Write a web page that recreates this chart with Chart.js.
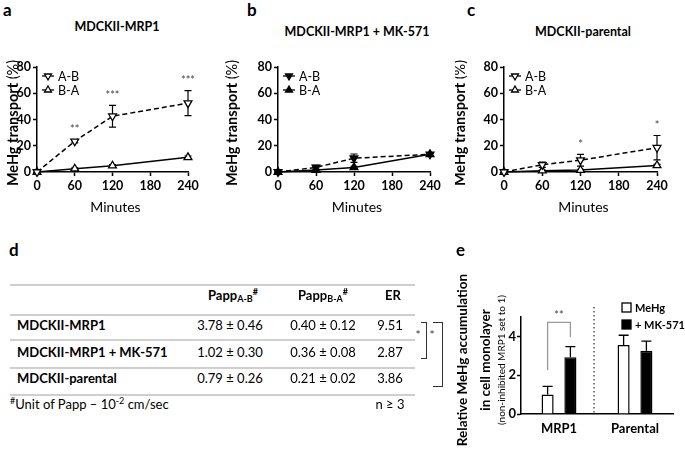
<!DOCTYPE html>
<html><head><meta charset="utf-8">
<script src="https://cdn.jsdelivr.net/npm/chart.js@4.4.0/dist/chart.umd.min.js"></script>
<style>
body{margin:0;background:#fff;font-family:Lato,"Open Sans",sans-serif;color:#000;}
#page{position:relative;width:685px;height:450px;overflow:hidden;background:#fff;}
.box{position:absolute;}
.t{position:absolute;white-space:nowrap;line-height:1;}
.hl{position:absolute;height:2px;background:#cfcfcf;left:10px;width:405px;}
.brk{position:absolute;border:1px solid #333;border-left:none;}
</style></head>
<body>
<div id="page">
  <div class="box" style="left:0;top:40px;width:205px;height:190px"><canvas id="ca" width="205" height="190"></canvas></div>
  <div class="box" style="left:225px;top:40px;width:220px;height:190px"><canvas id="cb" width="220" height="190"></canvas></div>
  <div class="box" style="left:455px;top:40px;width:225px;height:190px"><canvas id="cc" width="225" height="190"></canvas></div>
  <div class="box" style="left:455px;top:250px;width:230px;height:200px"><canvas id="ce" width="230" height="200"></canvas></div>
</div>
<script>
// ---------- data ----------
const minutes = [0, 60, 120, 240];
const lineXTicks = [0, 60, 120, 180, 240];
const lineYTicks = [0, 20, 40, 60, 80];

const mrp1AB    = [0, 23.4, 42.5, 52.5];
const mrp1ABerr = [0, 1.2, 8.3, 9.5];
const mrp1BA    = [0, 2.5, 4.8, 11.2];
const mrp1BAerr = [0, 0.6, 0.8, 1.0];
const mrp1Stars = ['', '**', '***', '***'];

const mkAB    = [0, 3.5, 10.5, 13.5];
const mkABerr = [0, 1.5, 3.2, 1.2];
const mkBA    = [0, 1.5, 3.5, 13.5];
const mkBAerr = [0, 0.6, 0.8, 1.0];
const mkStars = ['', '', '', ''];

const parAB    = [0, 5.5, 9, 18.5];
const parABerr = [0, 2, 4.5, 9.3];
const parBA    = [0, 1, 1.5, 5];
const parBAerr = [0, 0.5, 0.6, 0.8];
const parStars = ['', '', '*', '*'];

const panelTitles = ['MDCKII-MRP1', 'MDCKII-MRP1 + MK-571', 'MDCKII-parental'];
const seriesNames = ['A-B', 'B-A'];

const tableRows = ['MDCKII-MRP1', 'MDCKII-MRP1 + MK-571', 'MDCKII-parental'];
const pappAB = ['3.78 ± 0.46', '1.02 ± 0.30', '0.79 ± 0.26'];
const pappBA = ['0.40 ± 0.12', '0.36 ± 0.08', '0.21 ± 0.02'];
const erVals = ['9.51', '2.87', '3.86'];

const barCats = ['MRP1', 'Parental'];
const barSeries = ['MeHg', '+ MK-571'];
const meHg = [1.0, 3.56];
const meHgErr = [0.42, 0.5];
const mk571 = [2.92, 3.26];
const mk571Err = [0.55, 0.5];
const barYTicks = [0, 2, 4];
const sigTop = 4.72, sigLegL = 2.27, sigLegR = 3.97, sigText = '**';

// ---------- helpers ----------
const FONT = 'Lato, "Open Sans", sans-serif';
const page = document.getElementById('page');
function txt(html, x, cy, size, weight, align, color) {
  const d = document.createElement('div');
  d.className = 't';
  d.innerHTML = html;
  d.style.fontSize = size + 'px';
  d.style.fontWeight = weight || 'normal';
  if (color) d.style.color = color;
  const base = cy + 0.36 * size;
  d.style.top = (base - 0.887 * size) + 'px';
  d.style.left = x + 'px';
  if (align === 'center') d.style.transform = 'translateX(-50%)';
  page.appendChild(d);
  return d;
}

// panel letters and titles
txt('a', 3, 10, 17, 'bold');
txt('b', 247, 10, 17, 'bold');
txt('c', 467, 10, 17, 'bold');
txt('d', 9, 250, 17, 'bold');
txt('e', 456, 250, 17, 'bold');
txt(panelTitles[0], 117, 28, 12.5, 'bold', 'center');
txt(panelTitles[1], 357, 33, 12.5, 'bold', 'center');
txt(panelTitles[2], 583, 33, 12.5, 'bold', 'center');

// ---------- table d ----------
[285, 315, 340, 368, 395].forEach(y => {
  const l = document.createElement('div'); l.className = 'hl'; l.style.top = (y - 1) + 'px'; page.appendChild(l);
});
const subS = 'font-size:9px;position:relative;top:2px;';
const supS = 'font-size:9px;position:relative;top:-5px;';
txt('Papp<span style="' + subS + '">A-B</span><span style="' + supS + '">#</span>', 233, 296, 13, 'bold', 'center');
txt('Papp<span style="' + subS + '">B-A</span><span style="' + supS + '">#</span>', 323, 296, 13, 'bold', 'center');
txt('ER', 393, 296, 13, 'bold', 'center');
const rowY = [326, 353, 379];
tableRows.forEach((r, i) => {
  txt(r, 17, rowY[i], 13, 'bold');
  txt(pappAB[i], 230, rowY[i], 13, 'normal', 'center');
  txt(pappBA[i], 323, rowY[i], 13, 'normal', 'center');
  txt(erVals[i], 390, rowY[i], 13, 'normal', 'center');
});
txt('<span style="' + supS + '">#</span>Unit of Papp – 10<span style="' + supS + '">-2</span> cm/sec', 10, 405, 13, 'normal');
txt('n ≥ 3', 390, 405, 13, 'normal', 'center');
// significance brackets
const b1 = document.createElement('div'); b1.className = 'brk';
Object.assign(b1.style, {left: '421px', top: '322px', width: '5px', height: '35px'}); page.appendChild(b1);
const b2 = document.createElement('div'); b2.className = 'brk';
Object.assign(b2.style, {left: '433px', top: '322px', width: '9px', height: '63px'}); page.appendChild(b2);
txt('*', 418, 335, 12, 'normal', 'center', '#333');
txt('*', 432, 335, 12, 'normal', 'center', '#333');

// ---------- line panels ----------
function linePanel(id, ab, abErr, ba, baErr, stars, filled, yw, rightPad, yTitleX) {
  const pts = arr => minutes.map((m, i) => ({x: m, y: arr[i]}));
  const ds = (label, arr, errs, rot, dash) => ({
    label, data: pts(arr), errs,
    borderColor: '#000', borderWidth: 1.5, borderDash: dash,
    pointStyle: 'triangle', rotation: rot, pointRadius: 4.5,
    pointBackgroundColor: filled ? '#000' : '#fff', pointBorderColor: '#000', pointBorderWidth: 1.3,
    tension: 0, fill: false, clip: false
  });
  const tickFont = {family: FONT, size: 12.5, weight: 'bold'};
  const plug = {
    id: 'decor' + id,
    beforeDatasetsDraw(chart) {
      const ctx = chart.ctx, ys = chart.scales.y;
      ctx.save(); ctx.strokeStyle = '#000'; ctx.lineWidth = 1.2; ctx.setLineDash([]);
      chart.data.datasets.forEach((d, di) => {
        chart.getDatasetMeta(di).data.forEach((el, i) => {
          const e = d.errs[i], v = d.data[i].y;
          if (!e) return;
          const y1 = ys.getPixelForValue(v + e), y2 = ys.getPixelForValue(Math.max(v - e, 0));
          ctx.beginPath();
          ctx.moveTo(el.x, y1); ctx.lineTo(el.x, y2);
          ctx.moveTo(el.x - 3.5, y1); ctx.lineTo(el.x + 3.5, y1);
          ctx.moveTo(el.x - 3.5, y2); ctx.lineTo(el.x + 3.5, y2);
          ctx.stroke();
        });
      });
      ctx.restore();
    },
    afterDatasetsDraw(chart) {
      const ctx = chart.ctx, xs = chart.scales.x, ys = chart.scales.y;
      ctx.save();
      ctx.fillStyle = '#444'; ctx.font = '11px ' + FONT; ctx.textAlign = 'center'; ctx.textBaseline = 'alphabetic';
      stars.forEach((s, i) => {
        if (!s) return;
        const x = xs.getPixelForValue(minutes[i]);
        const y = ys.getPixelForValue(ab[i] + abErr[i]) - 13;
        ctx.fillText(s, x, y + 6.5);
      });
      ctx.restore();
    },
    afterDraw(chart) {
      const ctx = chart.ctx, ca = chart.chartArea;
      ctx.save();
      // legend
      [[0, 180], [1, 0]].forEach(([k, rot]) => {
        const mx = ca.left + 11, my = ca.top + 9 + 14 * k;
        ctx.strokeStyle = '#000'; ctx.lineWidth = 1.3; ctx.setLineDash([]);
        ctx.beginPath(); ctx.moveTo(mx - 6, my); ctx.lineTo(mx + 6, my); ctx.stroke();
        ctx.fillStyle = filled ? '#000' : '#fff';
        Chart.helpers.drawPoint(ctx, {pointStyle: 'triangle', rotation: rot, radius: 4, borderWidth: 1.3}, mx, my);
        ctx.fillStyle = '#000'; ctx.font = '12.5px ' + FONT; ctx.textBaseline = 'middle'; ctx.textAlign = 'left';
        ctx.fillText(seriesNames[k], ca.left + 21, my + 0.5);
      });
      // x title
      ctx.font = '14px ' + FONT; ctx.textAlign = 'center'; ctx.textBaseline = 'middle'; ctx.fillStyle = '#000';
      ctx.fillText('Minutes', (ca.left + ca.right) / 2 + 3, ca.bottom + 35);
      // y title
      ctx.translate(yTitleX, 83); ctx.rotate(-Math.PI / 2);
      ctx.font = 'bold 14.5px ' + FONT; const w1 = ctx.measureText('MeHg transport').width;
      ctx.font = '14.5px ' + FONT; const w2 = ctx.measureText(' (%)').width;
      const st = -(w1 + w2) / 2;
      ctx.textAlign = 'left'; ctx.textBaseline = 'middle';
      ctx.font = 'bold 14.5px ' + FONT; ctx.fillText('MeHg transport', st, 0);
      ctx.font = '14.5px ' + FONT; ctx.fillText(' (%)', st + w1, 0);
      ctx.restore();
    }
  };
  return new Chart(document.getElementById(id), {
    type: 'line',
    data: {datasets: [ds(seriesNames[0], ab, abErr, 180, [5, 3]), ds(seriesNames[1], ba, baErr, 0, [])]},
    options: {
      responsive: false, animation: false,
      layout: {padding: {top: 27, right: rightPad, left: 0, bottom: 0}},
      plugins: {legend: {display: false}, tooltip: {enabled: false}},
      scales: {
        x: {type: 'linear', min: 0, max: 240,
          afterBuildTicks(s) { s.ticks = lineXTicks.map(v => ({value: v})); },
          afterFit(s) { s.height = 58; },
          ticks: {font: tickFont, color: '#000', padding: 2, maxRotation: 0, autoSkip: false},
          grid: {drawOnChartArea: false, drawTicks: true, tickLength: 4, tickColor: '#000', tickWidth: 1.5},
          border: {color: '#000', width: 1.5}},
        y: {type: 'linear', min: 0, max: 80,
          afterBuildTicks(s) { s.ticks = lineYTicks.map(v => ({value: v})); },
          afterFit(s) { s.width = yw; },
          ticks: {font: tickFont, color: '#000', padding: 2},
          grid: {drawOnChartArea: false, drawTicks: true, tickLength: 4, tickColor: '#000', tickWidth: 1.5},
          border: {color: '#000', width: 1.5}}
      }
    },
    plugins: [plug]
  });
}
linePanel('ca', mrp1AB, mrp1ABerr, mrp1BA, mrp1BAerr, mrp1Stars, false, 37, 17, 13);
linePanel('cb', mkAB, mkABerr, mkBA, mkBAerr, mkStars, true, 53, 15, 7);
linePanel('cc', parAB, parABerr, parBA, parBAerr, parStars, false, 49, 23, 5);

// ---------- bar panel e ----------
(function () {
  const tickFont = {family: FONT, size: 13, weight: 'bold'};
  const plug = {
    id: 'decorE',
    afterDatasetsDraw(chart) {
      const ctx = chart.ctx, ys = chart.scales.y, xs = chart.scales.x, ca = chart.chartArea;
      ctx.save();
      // error bars (upper)
      ctx.strokeStyle = '#000'; ctx.lineWidth = 1.3;
      chart.data.datasets.forEach((d, di) => {
        chart.getDatasetMeta(di).data.forEach((el, i) => {
          const y1 = ys.getPixelForValue(d.data[i] + d.errs[i]);
          ctx.beginPath();
          ctx.moveTo(el.x, el.y); ctx.lineTo(el.x, y1);
          ctx.moveTo(el.x - 5, y1); ctx.lineTo(el.x + 5, y1);
          ctx.stroke();
        });
      });
      // dotted separator
      const sx = (xs.getPixelForValue(0) + xs.getPixelForValue(1)) / 2 - 3;
      ctx.setLineDash([1.5, 2.5]); ctx.lineWidth = 1.2; ctx.strokeStyle = '#333';
      ctx.beginPath(); ctx.moveTo(sx, ca.top - 10); ctx.lineTo(sx, ca.bottom); ctx.stroke();
      ctx.setLineDash([]);
      // significance bracket
      const xl = chart.getDatasetMeta(0).data[0].x, xr = chart.getDatasetMeta(1).data[0].x;
      const yt = ys.getPixelForValue(sigTop);
      ctx.strokeStyle = '#999'; ctx.lineWidth = 1.3;
      ctx.beginPath();
      ctx.moveTo(xl, ys.getPixelForValue(sigLegL)); ctx.lineTo(xl, yt); ctx.lineTo(xr, yt); ctx.lineTo(xr, ys.getPixelForValue(sigLegR));
      ctx.stroke();
      ctx.fillStyle = '#444'; ctx.font = '11px ' + FONT; ctx.textAlign = 'center'; ctx.textBaseline = 'alphabetic';
      ctx.fillText(sigText, (xl + xr) / 2, yt - 10 + 6.5);
      // legend
      const lx = ca.right - 51;
      [[0, '#fff', -9.5], [1, '#000', 7.5]].forEach(([k, c, dy]) => {
        const cy = ca.top + dy;
        ctx.fillStyle = c; ctx.fillRect(lx, cy - 4.5, 9, 9);
        ctx.strokeStyle = '#000'; ctx.lineWidth = 1.3; ctx.strokeRect(lx, cy - 4.5, 9, 9);
        ctx.fillStyle = '#000'; ctx.font = 'bold 11px ' + FONT; ctx.textAlign = 'left'; ctx.textBaseline = 'middle';
        ctx.fillText(barSeries[k], lx + 13, cy + 0.5);
      });
      ctx.restore();
    },
    afterDraw(chart) {
      const ctx = chart.ctx;
      ctx.save(); ctx.fillStyle = '#000'; ctx.textAlign = 'center'; ctx.textBaseline = 'middle';
      const line = (s, x, f) => { ctx.save(); ctx.translate(x, 110); ctx.rotate(-Math.PI / 2); ctx.font = f; ctx.fillText(s, 0, 0); ctx.restore(); };
      line('Relative MeHg accumulation', 8, 'bold 13.5px ' + FONT);
      line('in cell monolayer', 31, 'bold 13.5px ' + FONT);
      line('(non-inhibited MRP1 set to 1)', 47, '10px ' + FONT);
      ctx.restore();
    }
  };
  new Chart(document.getElementById('ce'), {
    type: 'bar',
    data: {labels: barCats, datasets: [
      {label: barSeries[0], data: meHg, errs: meHgErr, backgroundColor: '#fff', borderColor: '#000', borderWidth: 1.5, barPercentage: 0.53, categoryPercentage: 0.6},
      {label: barSeries[1], data: mk571, errs: mk571Err, backgroundColor: '#000', borderColor: '#000', borderWidth: 1.5, barPercentage: 0.53, categoryPercentage: 0.6}
    ]},
    options: {
      responsive: false, animation: false,
      layout: {padding: {top: 67, right: 12, left: 0, bottom: 0}},
      plugins: {legend: {display: false}, tooltip: {enabled: false}},
      scales: {
        x: {afterFit(s) { s.height = 36; },
          ticks: {font: tickFont, color: '#000', padding: 7},
          grid: {drawOnChartArea: false, drawTicks: false},
          border: {color: '#000', width: 1.5}},
        y: {min: 0, max: 5,
          afterBuildTicks(s) { s.ticks = barYTicks.map(v => ({value: v})); },
          afterFit(s) { s.width = 66; },
          ticks: {font: tickFont, color: '#000', padding: 1},
          grid: {drawOnChartArea: false, drawTicks: true, tickLength: 4, tickColor: '#000', tickWidth: 1.5},
          border: {color: '#000', width: 1.5}}
      }
    },
    plugins: [plug]
  });
})();
</script>
</body></html>
